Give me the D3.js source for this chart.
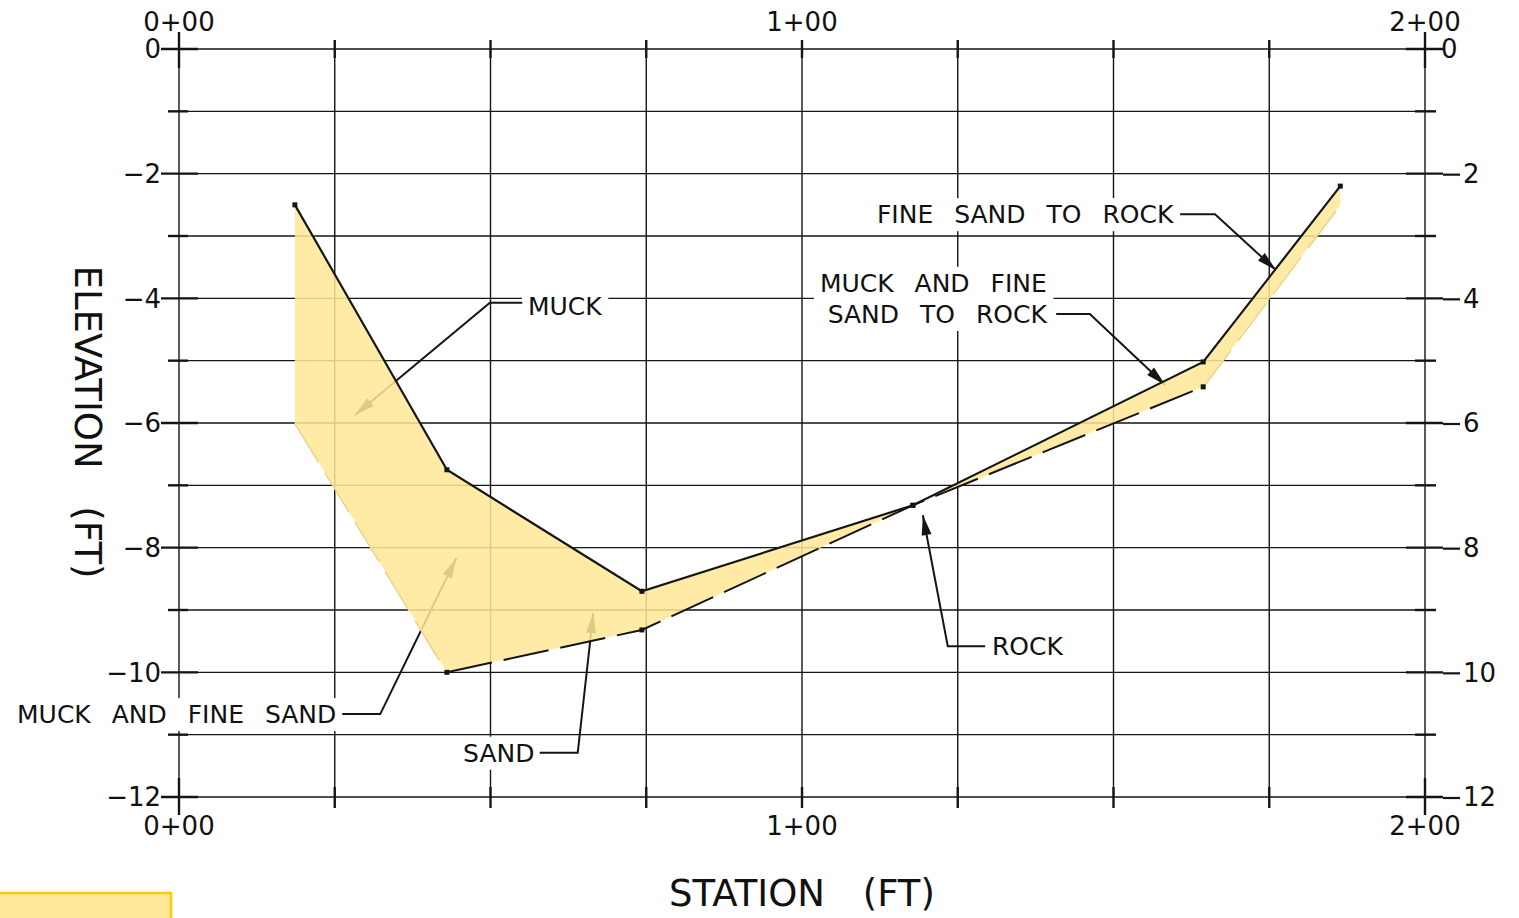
<!DOCTYPE html>
<html><head><meta charset="utf-8">
<script src="https://cdn.jsdelivr.net/npm/d3@7"></script>
<style>
html,body{margin:0;padding:0;background:#fff;overflow:hidden}
svg{display:block}
text{font-family:"DejaVu Sans",sans-serif;fill:#111}
</style></head>
<body>
<svg id="chart" width="1519" height="918"></svg>
<script>
// ---- data ----
const stations    = [18.6, 43.0, 74.3, 117.8, 164.4, 186.4];
const topElev     = [-2.5, -6.75, -8.7, -7.32, -5.02, -2.2];
const bottomElev  = [-6.0, -10.0, -9.32, -7.32, -5.42, -2.5];
const stationTicks = [0, 100, 200];
const stationTickLabels = ["0+00", "1+00", "2+00"];
const stationGrid = [0, 25, 50, 75, 100, 125, 150, 175, 200];
const elevGrid = [0, -1, -2, -3, -4, -5, -6, -7, -8, -9, -10, -11, -12];
const elevTicks = [0, -2, -4, -6, -8, -10, -12];
const leftTickLabels  = ["0", "\u22122", "\u22124", "\u22126", "\u22128", "\u221210", "\u221212"];
const rightTickLabels = ["0", "2", "4", "6", "8", "10", "12"];
// annotations: label anchor (station, elev), leader path (station, elev)
const annotations = [
  {lines:["MUCK"], anchor:"start", s:56.0, e:[-4.12], path:[[55.1,-4.07],[49.9,-4.07],[28.25,-5.87]]},
  {lines:["FINE SAND TO ROCK"], anchor:"end", s:159.6, e:[-2.65], path:[[160.7,-2.65],[166.3,-2.65],[176.1,-3.55]]},
  {lines:["MUCK AND FINE","SAND TO ROCK"], anchor:"end", s:139.3, e:[-3.75,-4.25], path:[[140.8,-4.25],[146.2,-4.25],[158.3,-5.39]]},
  {lines:["ROCK"], anchor:"start", s:130.5, e:[-9.58], path:[[129.4,-9.58],[123.4,-9.58],[119.4,-7.48]]},
  {lines:["MUCK AND FINE SAND"], anchor:"start", s:-26.0, e:[-10.67], path:[[26.2,-10.67],[32.3,-10.67],[44.5,-8.17]]},
  {lines:["SAND"], anchor:"start", s:45.6, e:[-11.29], path:[[57.9,-11.29],[64.0,-11.29],[66.5,-9.05]]}
];

// ---- setup ----
const svg = d3.select("#chart");
const x = d3.scaleLinear().domain([0, 200]).range([179, 1425]);
const y = d3.scaleLinear().domain([0, -12]).range([49, 797]);
const ink = "#151515";

// grid
const g = svg.append("g");
g.selectAll(".vg").data(stationGrid).join("line")
  .attr("x1", d => x(d)).attr("x2", d => x(d))
  .attr("y1", y(0)).attr("y2", y(-12))
  .attr("stroke", ink).attr("stroke-width", 1.4);
g.selectAll(".hg").data(elevGrid).join("line")
  .attr("x1", x(0)).attr("x2", x(200))
  .attr("y1", d => y(d)).attr("y2", d => y(d))
  .attr("stroke", ink).attr("stroke-width", 1.4);

// bold ticks on vertical lines (top & bottom)
stationGrid.forEach(s => {
  const edge = (s === 0 || s === 200);
  [[0, edge ? -17 : -9, edge ? 19 : 9], [-12, edge ? -19 : -10, edge ? 18 : 11]].forEach(([e, a, b]) => {
    g.append("line").attr("x1", x(s)).attr("x2", x(s))
      .attr("y1", y(e) + a).attr("y2", y(e) + b)
      .attr("stroke", ink).attr("stroke-width", 2.4);
  });
});
// bold ticks on horizontal lines (left & right)
elevGrid.forEach(e => {
  const major = elevTicks.includes(e);
  g.append("line").attr("x1", x(0) - (major ? 18 : 11)).attr("x2", x(0) + (major ? 19 : 9))
    .attr("y1", y(e)).attr("y2", y(e)).attr("stroke", ink).attr("stroke-width", 2.4);
  g.append("line").attr("x1", x(200) - (major ? 19 : 10)).attr("x2", x(200) + (major ? 18 : 11))
    .attr("y1", y(e)).attr("y2", y(e)).attr("stroke", ink).attr("stroke-width", 2.4);
  if (major && e !== 0) {
    g.append("line").attr("x1", x(200) + 18).attr("x2", x(200) + 35)
      .attr("y1", y(e) + 1).attr("y2", y(e) + 1).attr("stroke", ink).attr("stroke-width", 2.2);
  }
});

// axis labels
const lab = svg.append("g").attr("font-size", 26);
elevTicks.forEach((e, i) => {
  lab.append("text").attr("x", x(0) - 18).attr("y", y(e)).attr("dy", "0.36em")
    .attr("text-anchor", "end").text(leftTickLabels[i]);
  lab.append("text").attr("x", x(200) + (e === 0 ? 16 : 38)).attr("y", y(e)).attr("dy", "0.36em")
    .attr("text-anchor", "start").text(rightTickLabels[i]);
});
stationTicks.forEach((s, i) => {
  lab.append("text").attr("x", x(s)).attr("y", 22).attr("dy", "0.36em")
    .attr("text-anchor", "middle").text(stationTickLabels[i]);
  lab.append("text").attr("x", x(s)).attr("y", 826).attr("dy", "0.36em")
    .attr("text-anchor", "middle").text(stationTickLabels[i]);
});
svg.append("text").attr("x", 802).attr("y", 893).attr("dy", "0.36em")
  .attr("text-anchor", "middle").attr("font-size", 37).attr("word-spacing", 26)
  .text("STATION (FT)");
svg.append("text").attr("transform", "translate(88,422) rotate(90)").attr("dy", "0.36em")
  .attr("text-anchor", "middle").attr("font-size", 37).attr("word-spacing", 26)
  .text("ELEVATION (FT)");

// annotation labels with white backgrounds
const annG = svg.append("g");
annotations.forEach(a => {
  const grp = annG.append("g");
  const texts = a.lines.map((t, i) => grp.append("text")
    .attr("x", x(a.s)).attr("y", y(a.e[i])).attr("dy", "0.36em")
    .attr("text-anchor", a.anchor).attr("font-size", 25).attr("word-spacing", 13).text(t));
  let bb = null;
  texts.forEach(t => {
    const b = t.node().getBBox();
    if (!bb) bb = {x0: b.x, y0: b.y, x1: b.x + b.width, y1: b.y + b.height};
    else { bb.x0 = Math.min(bb.x0, b.x); bb.y0 = Math.min(bb.y0, b.y); bb.x1 = Math.max(bb.x1, b.x + b.width); bb.y1 = Math.max(bb.y1, b.y + b.height); }
  });
  grp.insert("rect", "text").attr("x", bb.x0 - 6).attr("y", bb.y0 - 2)
    .attr("width", bb.x1 - bb.x0 + 12).attr("height", bb.y1 - bb.y0 + 4).attr("fill", "#fff");
});

// leaders with arrowheads (drawn under the fill)
const leadG = svg.append("g");
const line = d3.line().x(d => x(d[0])).y(d => y(d[1]));
annotations.forEach(a => {
  leadG.append("path").attr("d", line(a.path)).attr("fill", "none")
    .attr("stroke", ink).attr("stroke-width", 2);
  const p1 = a.path[a.path.length - 2], p2 = a.path[a.path.length - 1];
  const X1 = x(p1[0]), Y1 = y(p1[1]), X2 = x(p2[0]), Y2 = y(p2[1]);
  const ang = Math.atan2(Y2 - Y1, X2 - X1), L = 20, W = 5;
  const bx = X2 - L * Math.cos(ang), by = Y2 - L * Math.sin(ang);
  const px = -Math.sin(ang) * W, py = Math.cos(ang) * W;
  leadG.append("path").attr("d", `M${X2},${Y2}L${bx + px},${by + py}L${bx - px},${by - py}Z`).attr("fill", ink);
});

const pts = stations.map((s, i) => ({s, t: topElev[i], b: bottomElev[i]}));
const botLine = d3.line().x(d => x(d.s)).y(d => y(d.b));

// faint dashed edges (outer segments, mostly hidden by fill)
[pts.slice(0, 2), pts.slice(4, 6)].forEach(seg => {
  svg.append("path").attr("d", botLine(seg)).attr("fill", "none")
    .attr("stroke", "#e2cf86").attr("stroke-width", 2).attr("stroke-dasharray", "46,12");
});

// fill
const area = d3.area().x(d => x(d.s)).y0(d => y(d.b)).y1(d => y(d.t));
svg.append("path").attr("d", area(pts)).attr("fill", "#FFE797").attr("fill-opacity", 0.86);

// dashed line on top for middle section
svg.append("path").attr("d", botLine(pts.slice(1, 5))).attr("fill", "none")
  .attr("stroke", ink).attr("stroke-width", 2).attr("stroke-dasharray", "46,12");

// top solid line
const topLine = d3.line().x(d => x(d.s)).y(d => y(d.t));
svg.append("path").attr("d", topLine(pts)).attr("fill", "none")
  .attr("stroke", ink).attr("stroke-width", 2.2);

// vertex markers
svg.selectAll(".vt").data(pts).join("rect")
  .attr("x", d => x(d.s) - 2.5).attr("y", d => y(d.t) - 2.5).attr("width", 5).attr("height", 5).attr("fill", ink);
svg.selectAll(".vb").data(pts.slice(1, 5)).join("rect")
  .attr("x", d => x(d.s) - 2.5).attr("y", d => y(d.b) - 2.5).attr("width", 5).attr("height", 5).attr("fill", ink);

// legend swatch (partially off-canvas)
svg.append("rect").attr("x", -4).attr("y", 893).attr("width", 175).attr("height", 40)
  .attr("fill", "#FFE99B").attr("stroke", "#FFCC00").attr("stroke-width", 2.5);
</script>
</body></html>
